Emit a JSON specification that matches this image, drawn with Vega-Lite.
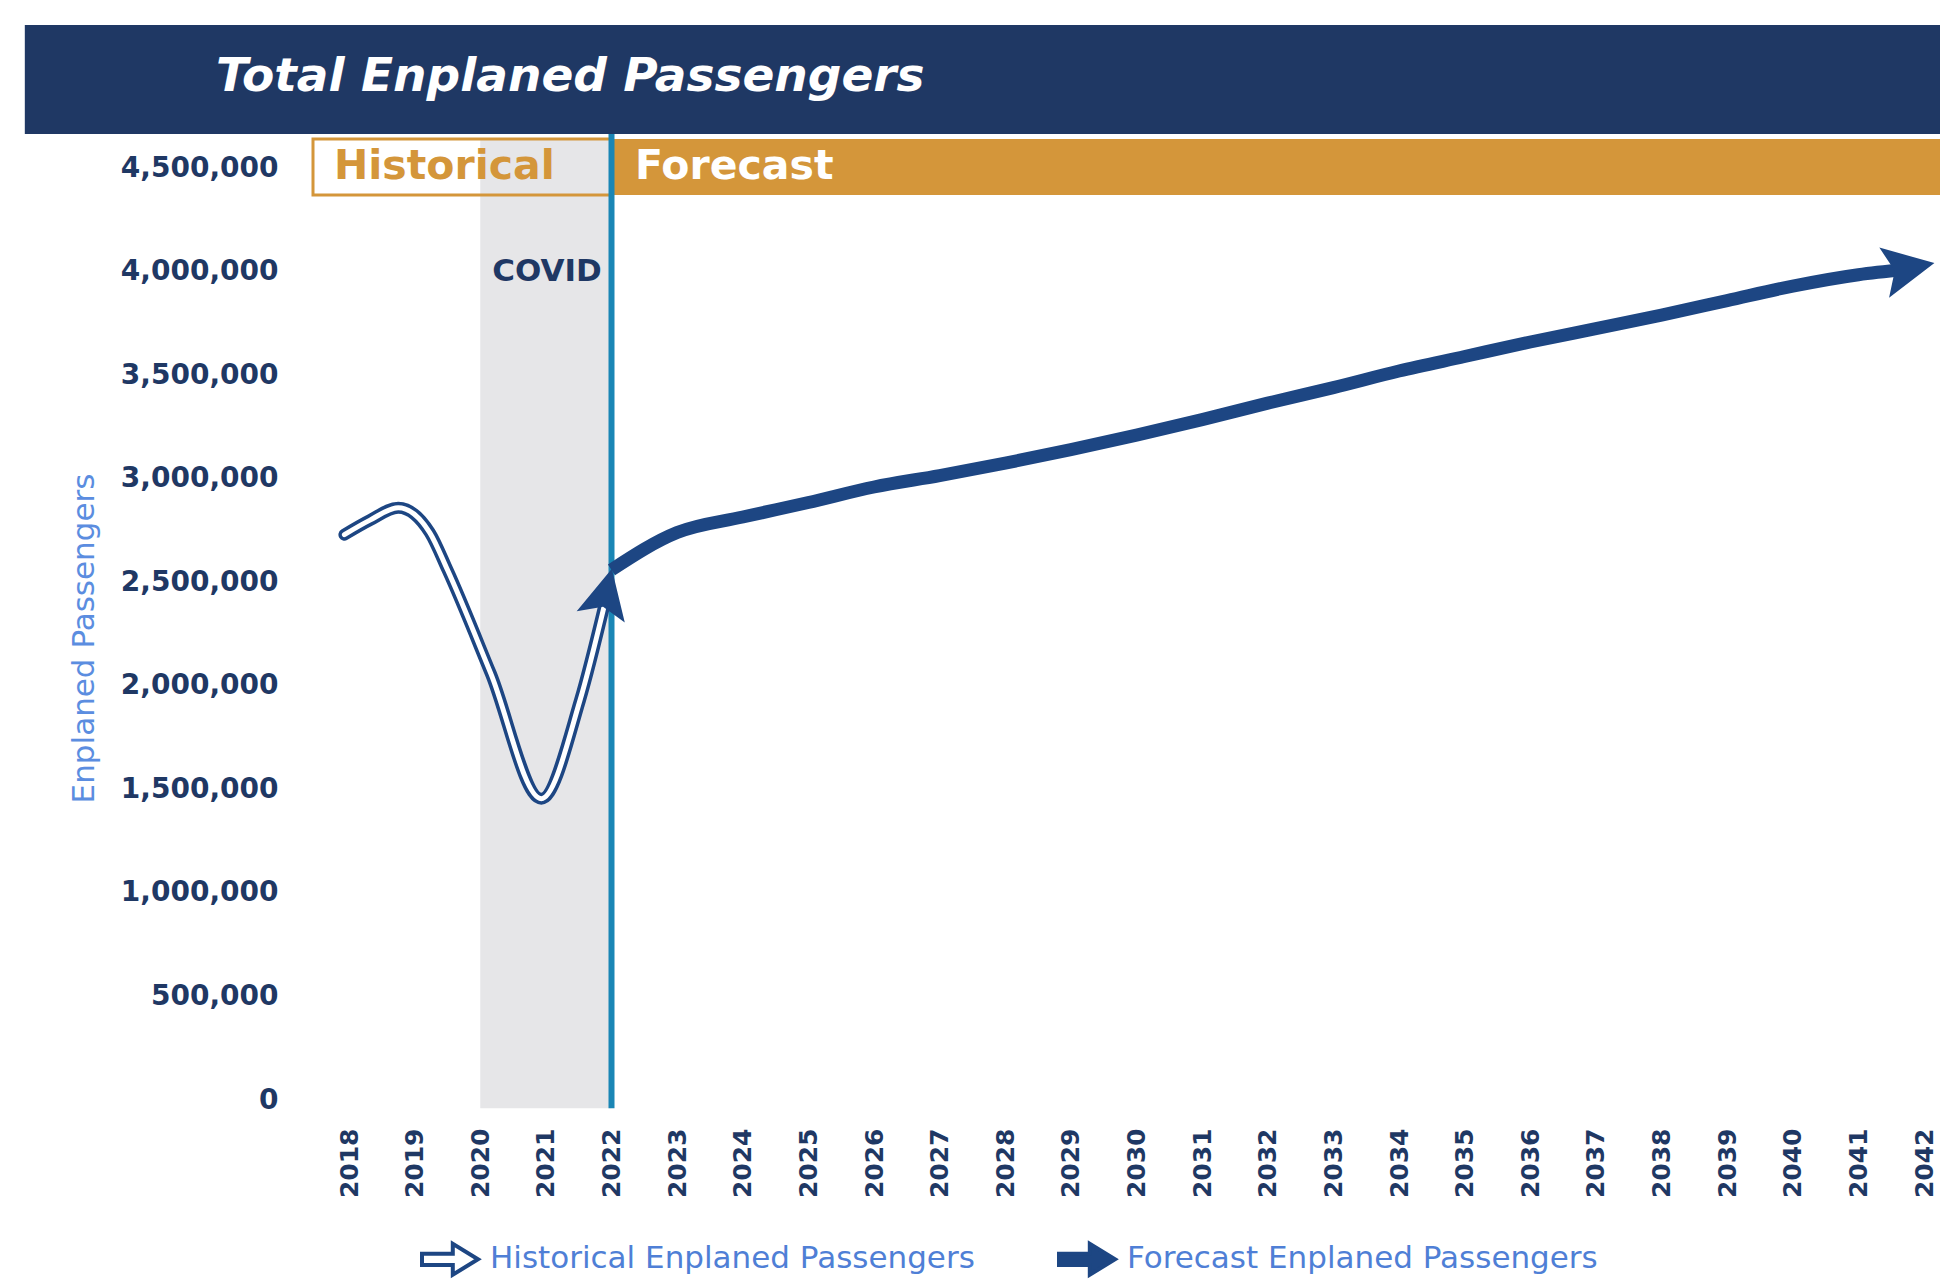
{
  "$schema": "https://vega.github.io/schema/vega-lite/v6.json",
  "width": 1627,
  "height": 963,
  "autosize": "none",
  "padding": {"left": 313, "top": 137, "right": 0, "bottom": 179},
  "background": "white",
  "config": {"view": {"stroke": null}, "font": "DejaVu Sans"},
  "datasets": {
    "historical": [
      {"series": "Historical Enplaned Passengers", "year": 2017.93, "passengers": 2730000},
      {"series": "Historical Enplaned Passengers", "year": 2018.32, "passengers": 2800000},
      {"series": "Historical Enplaned Passengers", "year": 2018.75, "passengers": 2860000},
      {"series": "Historical Enplaned Passengers", "year": 2019.23, "passengers": 2740000},
      {"series": "Historical Enplaned Passengers", "year": 2019.5, "passengers": 2560000},
      {"series": "Historical Enplaned Passengers", "year": 2020.16, "passengers": 2060000},
      {"series": "Historical Enplaned Passengers", "year": 2020.93, "passengers": 1455000},
      {"series": "Historical Enplaned Passengers", "year": 2021.52, "passengers": 1930000},
      {"series": "Historical Enplaned Passengers", "year": 2021.9, "passengers": 2400000}
    ],
    "forecast": [
      {"series": "Forecast Enplaned Passengers", "year": 2022, "passengers": 2560000},
      {"series": "Forecast Enplaned Passengers", "year": 2023, "passengers": 2740000},
      {"series": "Forecast Enplaned Passengers", "year": 2024, "passengers": 2815000},
      {"series": "Forecast Enplaned Passengers", "year": 2025, "passengers": 2885000},
      {"series": "Forecast Enplaned Passengers", "year": 2026, "passengers": 2960000},
      {"series": "Forecast Enplaned Passengers", "year": 2027, "passengers": 3015000},
      {"series": "Forecast Enplaned Passengers", "year": 2028, "passengers": 3075000},
      {"series": "Forecast Enplaned Passengers", "year": 2029, "passengers": 3140000},
      {"series": "Forecast Enplaned Passengers", "year": 2030, "passengers": 3210000},
      {"series": "Forecast Enplaned Passengers", "year": 2031, "passengers": 3285000},
      {"series": "Forecast Enplaned Passengers", "year": 2032, "passengers": 3365000},
      {"series": "Forecast Enplaned Passengers", "year": 2033, "passengers": 3440000},
      {"series": "Forecast Enplaned Passengers", "year": 2034, "passengers": 3520000},
      {"series": "Forecast Enplaned Passengers", "year": 2035, "passengers": 3590000},
      {"series": "Forecast Enplaned Passengers", "year": 2036, "passengers": 3660000},
      {"series": "Forecast Enplaned Passengers", "year": 2037, "passengers": 3725000},
      {"series": "Forecast Enplaned Passengers", "year": 2038, "passengers": 3790000},
      {"series": "Forecast Enplaned Passengers", "year": 2039, "passengers": 3860000},
      {"series": "Forecast Enplaned Passengers", "year": 2040, "passengers": 3930000},
      {"series": "Forecast Enplaned Passengers", "year": 2041, "passengers": 3985000},
      {"series": "Forecast Enplaned Passengers", "year": 2041.7, "passengers": 4010000}
    ],
    "arrowheads": [
      {"series": "Historical Enplaned Passengers", "year": 2021.916, "passengers": 2443000},
      {"series": "Forecast Enplaned Passengers", "year": 2041.756, "passengers": 4017000}
    ]
  },
  "layer": [
    {
      "data": {"values": [{}]},
      "mark": {"type": "rect", "color": "#1f3864"},
      "encoding": {
        "x": {"datum": 2013.06, "type": "quantitative", "scale": {"domain": [2017.4514, 2042.2438], "nice": false, "zero": false}},
        "x2": {"datum": 2043},
        "y": {"datum": 5190812, "type": "quantitative", "scale": {"domain": [0, 4650000], "nice": false, "zero": false}},
        "y2": {"datum": 4664486}
      }
    },
    {
      "data": {"values": [{}]},
      "mark": {"type": "text", "text": "Total Enplaned Passengers", "align": "left", "baseline": "middle", "color": "#ffffff", "fontSize": 47, "fontWeight": "bold", "fontStyle": "italic"},
      "encoding": {
        "x": {"datum": 2015.973, "type": "quantitative"},
        "y": {"datum": 4939720, "type": "quantitative"}
      }
    },
    {
      "data": {"values": [{}]},
      "mark": {"type": "rect", "color": "#e6e6e8"},
      "encoding": {
        "x": {"datum": 2020, "type": "quantitative"},
        "x2": {"datum": 2022},
        "y": {"datum": -40000, "type": "quantitative"},
        "y2": {"datum": 4640000}
      }
    },
    {
      "data": {"values": [{}]},
      "mark": {"type": "rect", "color": "#d4963a"},
      "encoding": {
        "x": {"datum": 2022, "type": "quantitative"},
        "x2": {"datum": 2043},
        "y": {"datum": 4370000, "type": "quantitative"},
        "y2": {"datum": 4640000}
      }
    },
    {
      "data": {"values": [{}]},
      "mark": {"type": "rect", "filled": false, "color": "#d4963a", "strokeWidth": 3},
      "encoding": {
        "x": {"datum": 2017.4514, "type": "quantitative"},
        "x2": {"datum": 2022},
        "y": {"datum": 4370000, "type": "quantitative"},
        "y2": {"datum": 4640000}
      }
    },
    {
      "data": {"values": [{}]},
      "mark": {"type": "text", "text": "Historical", "align": "left", "baseline": "middle", "color": "#d4963a", "fontSize": 41, "fontWeight": "bold"},
      "encoding": {
        "x": {"datum": 2017.77, "type": "quantitative"},
        "y": {"datum": 4505000, "type": "quantitative"}
      }
    },
    {
      "data": {"values": [{}]},
      "mark": {"type": "text", "text": "Forecast", "align": "left", "baseline": "middle", "color": "#ffffff", "fontSize": 41, "fontWeight": "bold"},
      "encoding": {
        "x": {"datum": 2022.358, "type": "quantitative"},
        "y": {"datum": 4505000, "type": "quantitative"}
      }
    },
    {
      "data": {"values": [{}]},
      "mark": {"type": "rule", "color": "#1a86b5", "strokeWidth": 6},
      "encoding": {
        "x": {"datum": 2022, "type": "quantitative"},
        "y": {"datum": -40000, "type": "quantitative"},
        "y2": {"datum": 4665000}
      }
    },
    {
      "data": {"values": [{}]},
      "mark": {"type": "text", "text": "COVID", "align": "center", "baseline": "middle", "color": "#1f3864", "fontSize": 31, "fontWeight": "bold"},
      "encoding": {
        "x": {"datum": 2021.017, "type": "quantitative"},
        "y": {"datum": 4000000, "type": "quantitative"}
      }
    },
    {
      "data": {"name": "historical"},
      "mark": {"type": "line", "interpolate": "monotone", "color": "#1d4683", "strokeWidth": 12, "strokeCap": "round", "strokeJoin": "round"},
      "encoding": {
        "x": {"field": "year", "type": "quantitative", "axis": {"values": [2018, 2019, 2020, 2021, 2022, 2023, 2024, 2025, 2026, 2027, 2028, 2029, 2030, 2031, 2032, 2033, 2034, 2035, 2036, 2037, 2038, 2039, 2040, 2041, 2042], "format": "d", "title": null, "labelAngle": -90, "labelAlign": "right", "labelBaseline": "middle", "labelPadding": 28, "labelFontSize": 25, "labelFontWeight": "bold", "labelColor": "#1f3864", "ticks": false, "domain": false, "grid": false, "labelOverlap": false, "labelFlush": false, "labelBound": false}},
        "y": {"field": "passengers", "type": "quantitative", "axis": {"values": [0, 500000, 1000000, 1500000, 2000000, 2500000, 3000000, 3500000, 4000000, 4500000], "format": ",.0f", "title": "Enplaned Passengers", "titleColor": "#5b8de0", "titleFontSize": 31, "titleFontWeight": "normal", "titleX": -229, "titleY": 501, "titleAngle": -90, "titleAlign": "center", "titleBaseline": "middle", "labelFontSize": 28, "labelFontWeight": "bold", "labelColor": "#1f3864", "labelPadding": 35, "ticks": false, "domain": false, "gridColor": "#e8edf7", "gridWidth": 4, "labelFlush": false, "labelOverlap": false}}
      }
    },
    {
      "data": {"name": "historical"},
      "mark": {"type": "line", "interpolate": "monotone", "color": "#ffffff", "strokeWidth": 5, "strokeCap": "round", "strokeJoin": "round"},
      "encoding": {
        "x": {"field": "year", "type": "quantitative"},
        "y": {"field": "passengers", "type": "quantitative"}
      }
    },
    {
      "data": {"name": "forecast"},
      "mark": {"type": "line", "interpolate": "monotone", "color": "#1d4683", "strokeWidth": 13},
      "encoding": {
        "x": {"field": "year", "type": "quantitative"},
        "y": {"field": "passengers", "type": "quantitative"}
      }
    },
    {
      "data": {"name": "arrowheads"},
      "transform": [{"filter": "datum.series === 'Historical Enplaned Passengers'"}],
      "mark": {"type": "point", "shape": "M1,0 L-0.9,-0.95 L-0.5,0 L-0.9,0.95 Z", "size": 2700, "filled": true, "fill": "#1d4683", "opacity": 1, "strokeWidth": 0, "angle": -77},
      "encoding": {
        "x": {"field": "year", "type": "quantitative"},
        "y": {"field": "passengers", "type": "quantitative"}
      }
    },
    {
      "data": {"name": "arrowheads"},
      "transform": [{"filter": "datum.series === 'Forecast Enplaned Passengers'"}],
      "mark": {"type": "point", "shape": "M1,0 L-0.9,-0.95 L-0.5,0 L-0.9,0.95 Z", "size": 2900, "filled": true, "fill": "#1d4683", "opacity": 1, "strokeWidth": 0, "angle": -11},
      "encoding": {
        "x": {"field": "year", "type": "quantitative"},
        "y": {"field": "passengers", "type": "quantitative"}
      }
    },
    {
      "data": {"name": "arrowheads"},
      "mark": {"type": "point", "filled": true, "opacity": 0, "stroke": "#1d4683", "strokeWidth": 3},
      "encoding": {
        "x": {"field": "year", "type": "quantitative"},
        "y": {"field": "passengers", "type": "quantitative"},
        "shape": {"field": "series", "type": "nominal", "scale": {"domain": ["Historical Enplaned Passengers", "Forecast Enplaned Passengers"], "range": ["M-1,-0.2 L0.1,-0.2 L0.1,-0.55 L1,0 L0.1,0.55 L0.1,0.2 L-1,0.2 Z", "M-1,-0.2 L0.1,-0.2 L0.1,-0.55 L1,0 L0.1,0.55 L0.1,0.2 L-1,0.2 Z"]}, "legend": {"title": null, "orient": "none", "legendX": 107, "legendY": 1092, "direction": "horizontal", "symbolSize": 3136, "symbolOpacity": 1, "symbolStrokeColor": "#1d4683", "symbolStrokeWidth": 3, "labelFontSize": 31, "labelColor": "#4f7fd6", "labelOffset": 10, "labelLimit": 0, "columnPadding": 76, "encode": {"symbols": {"update": {"stroke": {"value": "#1d4683"}, "strokeWidth": {"value": 4}, "opacity": {"value": 1}}}}}},
        "fill": {"field": "series", "type": "nominal", "scale": {"domain": ["Historical Enplaned Passengers", "Forecast Enplaned Passengers"], "range": ["#ffffff", "#1d4683"]}, "legend": {"title": null, "orient": "none", "legendX": 107, "legendY": 1092, "direction": "horizontal", "symbolSize": 3136, "symbolOpacity": 1, "symbolStrokeColor": "#1d4683", "symbolStrokeWidth": 3, "labelFontSize": 31, "labelColor": "#4f7fd6", "labelOffset": 10, "labelLimit": 0, "columnPadding": 76, "encode": {"symbols": {"update": {"stroke": {"value": "#1d4683"}, "strokeWidth": {"value": 4}, "opacity": {"value": 1}}}}}}
      }
    }
  ]
}
